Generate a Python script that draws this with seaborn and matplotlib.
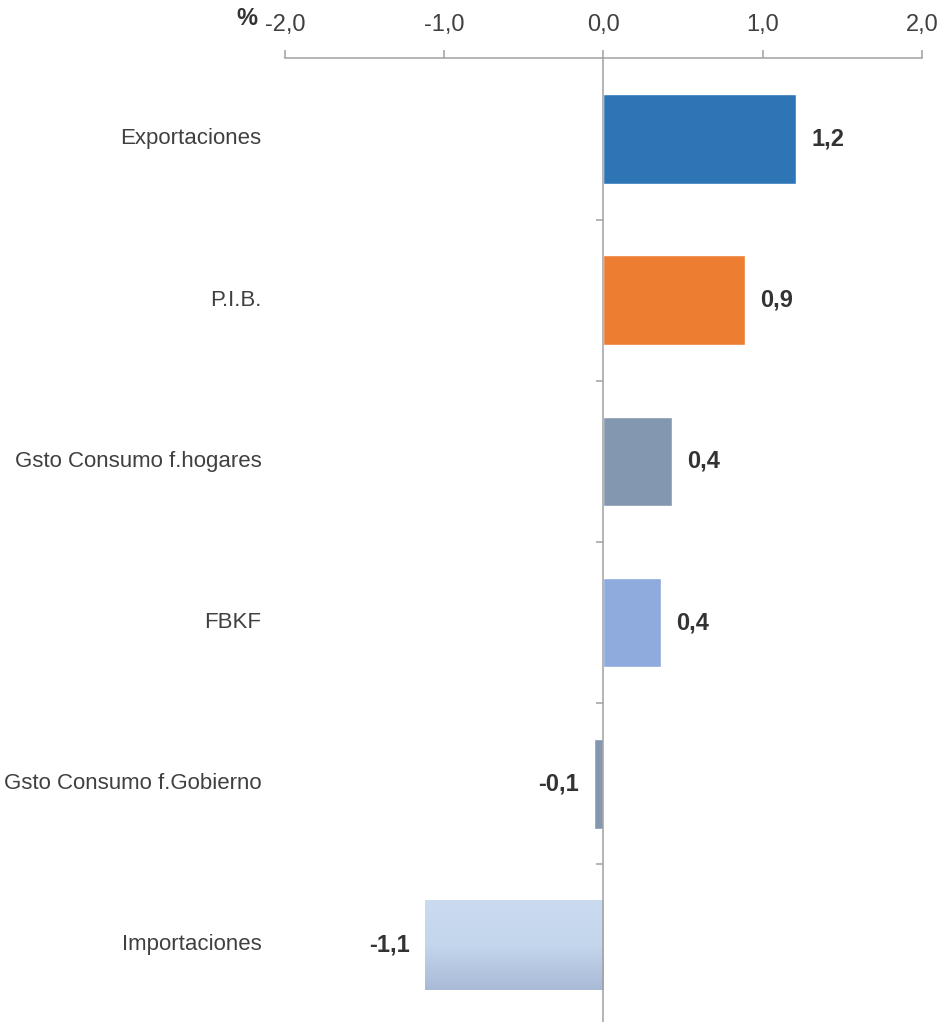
import numpy as np
import pandas as pd
import seaborn as sns
import matplotlib
matplotlib.use('Agg')
from matplotlib import pyplot as plt

categorias = ['Exportaciones', 'P.I.B.', 'Gsto Consumo f.hogares', 'FBKF',
              'Gsto Consumo f.Gobierno', 'Importaciones']
valores = [1.21, 0.89, 0.43, 0.36, -0.06, -1.12]
colores = ['#2E75B6', '#ED7D31', '#8497B0', '#8FAADC', '#8497B0', '#C9DAEE']
ticks_x = [-2.0, -1.0, 0.0, 1.0, 2.0]
tick_labels = ['-2,0', '-1,0', '0,0', '1,0', '2,0']

sns.set_style('white')
plt.rcParams['font.family'] = ['Liberation Sans Narrow', 'Liberation Sans', 'DejaVu Sans']

df = pd.DataFrame({'cat': categorias, 'val': valores})

fig = plt.figure(figsize=(9.42, 10.22), dpi=100)
ax = fig.add_axes([0.3025, -0.0035, 0.6763, 0.9464])

sns.barplot(data=df, x='val', y='cat', hue='cat', palette=colores, legend=False,
            orient='h', width=0.555, saturation=1, ax=ax)

barras = sorted(ax.patches, key=lambda p: p.get_y())

# degradado en la barra de importaciones
imp = barras[-1]
x0, y0 = imp.get_x(), imp.get_y()
w, h = imp.get_width(), imp.get_height()
grad = np.linspace(0, 1, 100).reshape(-1, 1)
cmap = matplotlib.colors.LinearSegmentedColormap.from_list('g', ['#CADBF0', '#C4D6EC', '#A8BAD6'])
im = ax.imshow(grad, cmap=cmap, aspect='auto', extent=[x0, x0 + w, y0 + h, y0], zorder=3)
im.set_clip_path(imp)

ax.set_xlim(-2, 2)
ax.set_ylim(5.5, -0.5)
ax.set_xlabel('')
ax.set_ylabel('')

grey = '#A0A0A0'
ax.xaxis.tick_top()
ax.set_xticks(ticks_x)
ax.set_xticklabels(tick_labels)
ax.tick_params(axis='x', direction='out', length=6, width=1.1, color=grey,
               labelsize=17, labelcolor='#404040', pad=10)

for s in ['right', 'bottom']:
    ax.spines[s].set_visible(False)
ax.spines['top'].set_color(grey)
ax.spines['top'].set_linewidth(1.1)
ax.spines['left'].set_position(('data', 0))
ax.spines['left'].set_color(grey)
ax.spines['left'].set_linewidth(1.1)
ax.spines['left'].set_zorder(5)

ax.set_yticks([])
ax.set_yticks([0.5, 1.5, 2.5, 3.5, 4.5], minor=True)
ax.tick_params(axis='y', which='minor', direction='out', length=5, width=1.1, color=grey, left=True)

for i, c in enumerate(categorias):
    ax.text(-0.037, i, c, transform=ax.get_yaxis_transform(), ha='right', va='center',
            fontsize=16, color='#404040')

for b, v in zip(barras, valores):
    etiqueta = f'{v:.1f}'.replace('.', ',')
    yc = b.get_y() + b.get_height() / 2
    signo = 1 if v >= 0 else -1
    ax.annotate(etiqueta, xy=(v, yc), xytext=(11 * signo, 0), textcoords='offset points',
                ha='left' if v >= 0 else 'right', va='center', fontsize=17,
                fontweight='bold', color='#333333')

ax.annotate('%', xy=(0, 1), xycoords='axes fraction', xytext=(-20, 29),
            textcoords='offset points', ha='right', va='center', fontsize=17,
            fontweight='bold', color='#333333')

fig.savefig('out.png', dpi=100)
